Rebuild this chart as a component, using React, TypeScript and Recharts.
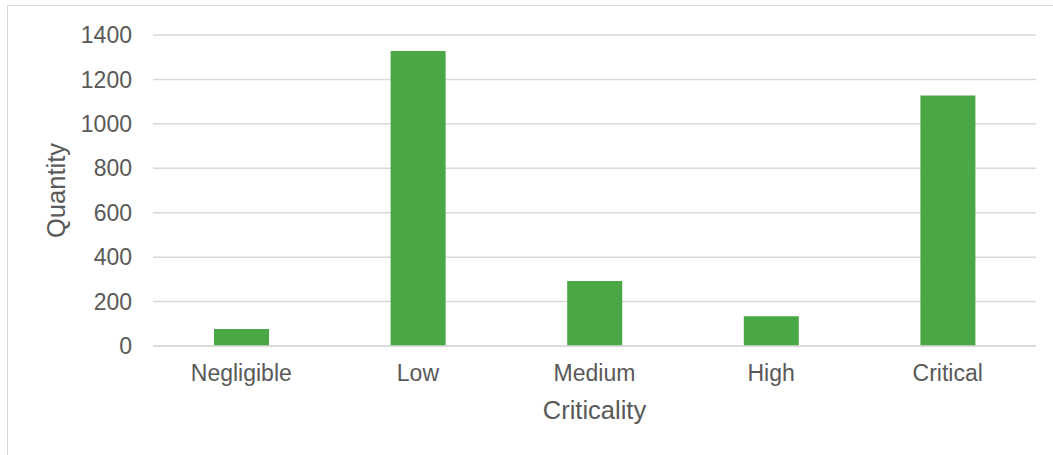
import React from 'react';
import { BarChart, Bar, XAxis, YAxis, CartesianGrid } from 'recharts';

const categories = ['Negligible', 'Low', 'Medium', 'High', 'Critical'];
const quantities = [77, 1328, 293, 134, 1128];
const yTicks = [0, 200, 400, 600, 800, 1000, 1200, 1400];

const data = categories.map((name, i) => ({ name, quantity: quantities[i] }));

const FONT = 'Arial, "Liberation Sans", sans-serif';
const TEXT = '#595959';
const GRID = '#d9d9d9';

export default function App() {
  return (
    <div
      style={{
        position: 'absolute',
        left: 7,
        top: 5,
        width: 1060,
        height: 460,
        border: `1px solid ${GRID}`,
        boxSizing: 'border-box',
        background: '#fff',
        fontFamily: FONT,
      }}
    >
      <BarChart
        width={1046}
        height={450}
        data={data}
        margin={{ top: 29, right: 18, left: 0, bottom: 30 }}
      >
        <CartesianGrid vertical={false} stroke={GRID} strokeWidth={1.5} />
        <XAxis
          dataKey="name"
          height={80}
          axisLine={{ stroke: GRID, strokeWidth: 1.5 }}
          tickLine={false}
          tickSize={0}
          tickMargin={19}
          tick={{ fill: TEXT, fontSize: 23, fontFamily: FONT }}
          label={{
            value: 'Criticality',
            position: 'insideBottom',
            offset: 7,
            style: { fill: TEXT, fontSize: 25.5, fontFamily: FONT },
          }}
        />
        <YAxis
          width={145}
          domain={[0, 1400]}
          ticks={yTicks}
          axisLine={false}
          tickLine={false}
          tickSize={0}
          tickMargin={21}
          tick={{ fill: TEXT, fontSize: 23, fontFamily: FONT }}
          label={{
            value: 'Quantity',
            angle: -90,
            position: 'insideLeft',
            offset: 48,
            style: { fill: TEXT, fontSize: 25.5, fontFamily: FONT, textAnchor: 'middle' },
          }}
        />
        <Bar dataKey="quantity" fill="#4aa745" barSize={55} isAnimationActive={false} />
      </BarChart>
    </div>
  );
}
